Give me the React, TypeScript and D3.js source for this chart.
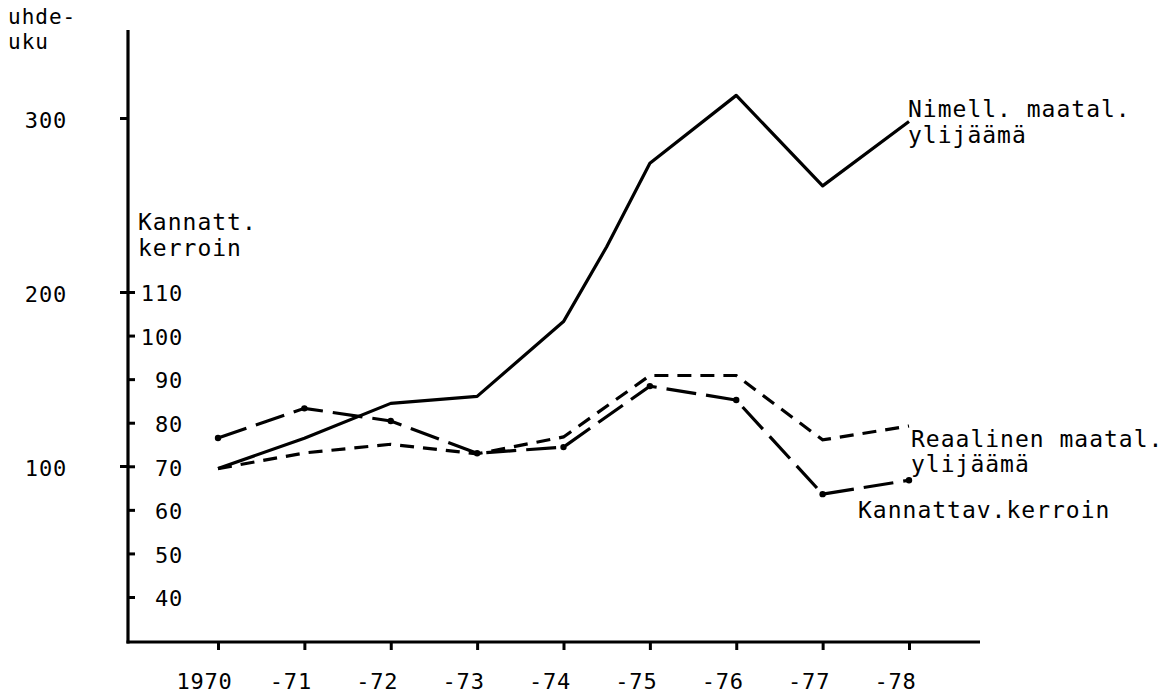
import { useEffect, useRef } from "react";
import { select, scaleLinear, line, axisBottom, axisLeft, axisRight } from "d3";

// values
const years = [1970, 1971, 1972, 1973, 1974, 1975, 1976, 1977, 1978];
const yearLabels = ["1970", "-71", "-72", "-73", "-74", "-75", "-76", "-77", "-78"];

// Nimell. maatal. ylijäämä (left axis, suhdeluku) - drawn line bends half way in 1974-75
const nimellYears = [1970, 1971, 1972, 1973, 1974, 1974.5, 1975, 1976, 1977, 1978];
const nimellValues = [98.5, 116, 136, 140, 183, 226, 274, 313, 261, 298];

// Reaalinen maatal. ylijäämä (left axis)
const reaalValues = [98.5, 107.5, 112.5, 107, 116.7, 152, 152, 115, 123];

// Kannattav.kerroin (right scale, 40-110)
const kannattValues = [76.5, 83.3, 80.4, 73, 74.4, 88.4, 85.2, 63.6, 66.8];

const leftTicks = [100, 200, 300];
const rightTicks = [40, 50, 60, 70, 80, 90, 100, 110];

const FONT = "'DejaVu Sans Mono', 'Liberation Mono', monospace";

export default function App() {
  const ref = useRef<SVGSVGElement>(null);
  const width = 1171, height = 699;

  useEffect(() => {
    if (!ref.current) return;
    const svg = select(ref.current);
    svg.selectAll("*").remove();

    const x = scaleLinear().domain([1970, 1978]).range([218, 909]);
    const yL = scaleLinear().domain([0, 300]).range([640, 118]);
    const yR = scaleLinear().domain([40, 110]).range([597, 292]);

    const axisX = 128, axisY = 642;

    svg.append("rect").attr("width", width).attr("height", height).attr("fill", "#fff");

    // axis lines
    svg.append("line")
      .attr("x1", axisX).attr("x2", axisX).attr("y1", 30).attr("y2", axisY + 1.5)
      .attr("stroke", "#000").attr("stroke-width", 3.2);
    svg.append("line")
      .attr("x1", axisX - 1.5).attr("x2", 980).attr("y1", axisY).attr("y2", axisY)
      .attr("stroke", "#000").attr("stroke-width", 3.2);

    // bottom axis
    const gx = svg.append("g")
      .attr("transform", `translate(0,${axisY})`)
      .call(axisBottom(x).tickValues(years).tickFormat((d, i) => yearLabels[i]).tickSize(8).tickSizeOuter(0));
    gx.select(".domain").remove();
    gx.selectAll(".tick line").attr("stroke-width", 3);
    gx.selectAll(".tick text")
      .attr("font-family", FONT).attr("font-size", 22).attr("letter-spacing", 0.8)
      .attr("dx", -14).attr("dy", 0).attr("y", 47).attr("fill", "#000");

    // left axis: suhdeluku
    const gl = svg.append("g")
      .attr("transform", `translate(${axisX},0)`)
      .call(axisLeft(yL).tickValues(leftTicks).tickSize(8).tickPadding(53));
    gl.select(".domain").remove();
    gl.selectAll(".tick line").attr("stroke-width", 3);
    gl.selectAll(".tick text")
      .attr("font-family", FONT).attr("font-size", 22).attr("letter-spacing", 0.8)
      .attr("dy", "0.45em").attr("fill", "#000");

    // right scale drawn on the same vertical axis: kannatt. kerroin
    const gr = svg.append("g")
      .attr("transform", `translate(${axisX},0)`)
      .call(axisRight(yR).tickValues(rightTicks).tickSize(7));
    gr.select(".domain").remove();
    gr.selectAll(".tick line").attr("stroke-width", 3);
    gr.selectAll(".tick text")
      .attr("font-family", FONT).attr("font-size", 22).attr("letter-spacing", 0.8)
      .attr("text-anchor", "end").attr("x", 55).attr("dy", "0.4em").attr("fill", "#000");

    // lines
    const nimellLine = line<number>()
      .x((d, i) => x(nimellYears[i]))
      .y((d) => yL(d));
    svg.append("path")
      .attr("d", nimellLine(nimellValues))
      .attr("fill", "none").attr("stroke", "#000").attr("stroke-width", 3.2)
      .attr("stroke-linejoin", "round");

    const reaalLine = line<number>()
      .x((d, i) => x(years[i]))
      .y((d) => yL(d));
    svg.append("path")
      .attr("d", reaalLine(reaalValues))
      .attr("fill", "none").attr("stroke", "#000").attr("stroke-width", 3.2)
      .attr("stroke-dasharray", "14 9");

    const kannattLine = line<number>()
      .x((d, i) => x(years[i]))
      .y((d) => yR(d));
    svg.append("path")
      .attr("d", kannattLine(kannattValues))
      .attr("fill", "none").attr("stroke", "#000").attr("stroke-width", 3.2)
      .attr("stroke-dasharray", "30 10");
    svg.append("g")
      .selectAll("circle")
      .data(kannattValues)
      .enter()
      .append("circle")
        .attr("cx", (d, i) => x(years[i]))
        .attr("cy", (d) => yR(d))
        .attr("r", 3.2)
        .attr("fill", "#000");

    // texts: [text, x, baseline, font size]
    const labels: [string, number, number, number][] = [
      ["uhde-", 8, 24, 21],
      ["uku", 8, 49, 21],
      ["Kannatt.", 138, 230, 23],
      ["kerroin", 138, 256, 23],
      ["Nimell. maatal.", 908, 117, 23],
      ["ylijäämä", 908, 143, 23],
      ["Reaalinen maatal.", 911, 447, 23],
      ["ylijäämä", 911, 472, 23],
      ["Kannattav.kerroin", 858, 518, 23],
    ];
    svg.append("g")
      .selectAll("text")
      .data(labels)
      .enter()
      .append("text")
        .attr("x", (d) => d[1])
        .attr("y", (d) => d[2])
        .attr("font-family", FONT)
        .attr("font-size", (d) => d[3])
        .attr("letter-spacing", 1.0)
        .attr("fill", "#000")
        .text((d) => d[0]);
  }, []);

  return (
    <svg
      ref={ref}
      width={width}
      height={height}
      style={{ position: "absolute", left: 0, top: 0, display: "block" }}
    />
  );
}
